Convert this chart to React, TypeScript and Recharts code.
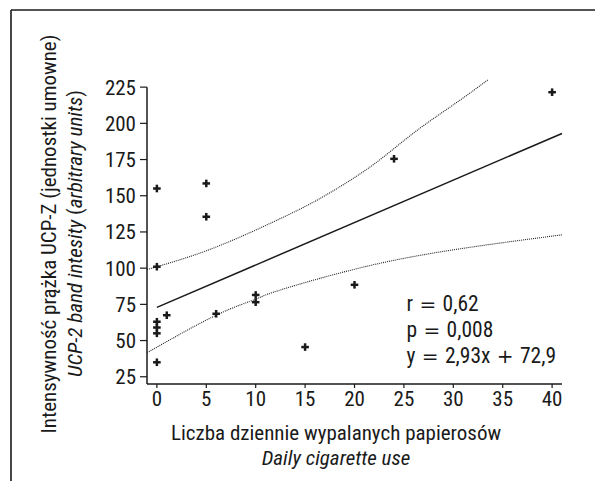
import React from "react";
import { ComposedChart, XAxis, YAxis, Line, Scatter, ReferenceLine } from "recharts";

// measured points (cigarettes/day vs UCP-2 band intensity)
const pointX = [0, 0, 0, 0, 0, 0, 1, 5, 5, 6, 10, 10, 15, 20, 24, 40];
const pointY = [155, 101, 63, 59, 55, 35, 67.5, 158.5, 135.5, 68.5, 81.5, 76.5, 45.5, 88.5, 175.5, 221.5];

// regression line y = 2,93x + 72,9
const fitX = [0, 41];
const fitY = [72.9, 193];

// confidence band
const upperX = [-1, 5, 11.3, 16.4, 21.5, 26.5, 31.6, 33.5];
const upperY = [99, 112, 130.4, 147.7, 169.5, 196, 220.5, 230];
const lowerX = [-1, 6, 10, 12.3, 21.5, 31.6, 41];
const lowerY = [41.5, 67.5, 78.5, 84.5, 101.7, 114.3, 123];

const xTicks = [0, 5, 10, 15, 20, 25, 30, 35, 40];
const yTicks = [25, 50, 75, 100, 125, 150, 175, 200, 225];

// stats box: text pieces, odd ones are operators
const stats = [
  ["r", " = ", "0,62"],
  ["p", " = ", "0,008"],
  ["y", " = ", "2,93x", " + ", "72,9"],
];

const FONT = "'Liberation Sans Narrow', 'Roboto Condensed', 'DejaVu Sans Condensed', 'Liberation Sans', sans-serif";
const MATH = "'DejaVu Sans', sans-serif";
const INK = "#1a1a1a";

const zip = (xs: number[], ys: number[]) => xs.map((x, i) => ({ x, y: ys[i] }));

const points = zip(pointX, pointY);
const fit = zip(fitX, fitY);
const upper = zip(upperX, upperY);
const lower = zip(lowerX, lowerY);

const Plus = (props: any) => {
  const { cx, cy } = props;
  return (
    <g stroke={INK} strokeWidth={2.5}>
      <line x1={cx - 3.8} y1={cy} x2={cx + 3.8} y2={cy} />
      <line x1={cx} y1={cy - 3.8} x2={cx} y2={cy + 3.8} />
    </g>
  );
};

const tickStyle = { fill: INK, fontSize: 21, fontFamily: FONT, fontStretch: "condensed" as const };

export default function App() {
  return (
    <div style={{ position: "absolute", left: 0, top: 0, width: 595, height: 481, background: "#fff" }}>
      <ComposedChart width={595} height={481} margin={{ top: 77, right: 33, bottom: 67, left: 0 }}>
        <XAxis
          type="number"
          dataKey="x"
          domain={[-1, 41]}
          ticks={xTicks}
          tickSize={4}
          tickMargin={3}
          tick={tickStyle}
          axisLine={{ stroke: INK, strokeWidth: 1.5 }}
          tickLine={{ stroke: INK, strokeWidth: 1.2 }}
          height={30}
        />
        <YAxis
          type="number"
          dataKey="y"
          domain={[20, 232]}
          ticks={yTicks}
          tickSize={7}
          tickMargin={4}
          tick={tickStyle}
          axisLine={false}
          tickLine={{ stroke: INK, strokeWidth: 1.2 }}
          width={147}
        />
        <ReferenceLine segment={[{ x: -1, y: 20 }, { x: -1, y: 225 }]} stroke={INK} strokeWidth={1.5} />
        <Line data={upper} dataKey="y" type="monotone" stroke="#222" strokeWidth={1.1} strokeDasharray="1 1" dot={false} isAnimationActive={false} />
        <Line data={lower} dataKey="y" type="natural" stroke="#222" strokeWidth={1.1} strokeDasharray="1 1" dot={false} isAnimationActive={false} />
        <Line data={fit} dataKey="y" type="linear" stroke={INK} strokeWidth={1.5} dot={false} isAnimationActive={false} />
        <Scatter data={points} dataKey="y" shape={<Plus />} isAnimationActive={false} />
      </ComposedChart>
      <svg width={595} height={481} style={{ position: "absolute", left: 0, top: 0, pointerEvents: "none" }}>
        {/* frame */}
        <line x1={11} y1={10} x2={595} y2={10} stroke={INK} strokeWidth={1.6} />
        <line x1={11} y1={10} x2={11} y2={481} stroke={INK} strokeWidth={1.6} />
        <g fontFamily={FONT} fontSize={21} fill={INK} style={{ fontStretch: "condensed" }}>
          <text x={56} y={234} textAnchor="middle" transform="rotate(-90 56 234)">
            Intensywność prążka UCP-Z (jednostki umowne)
          </text>
          <text x={81.5} y={233.5} textAnchor="middle" transform="rotate(-90 81.5 233.5)">
            <tspan fontStyle="italic">UCP-2 band intesity</tspan> (<tspan fontStyle="italic">arbitrary units</tspan>)
          </text>
          <text x={336} y={440} textAnchor="middle">Liczba dziennie wypalanych papierosów</text>
          <text x={336} y={465} textAnchor="middle" fontStyle="italic">Daily cigarette use</text>
          {stats.map((parts, i) => (
            <text key={i} x={406.5} y={310.5 + i * 26} fontSize={21.5} style={{ whiteSpace: "pre" }}>
              {parts.map((p, j) => (
                <tspan key={j} style={j % 2 === 1 ? { fontFamily: MATH, fontSize: 20, fontStretch: "normal" } : undefined}>
                  {p}
                </tspan>
              ))}
            </text>
          ))}
        </g>
      </svg>
    </div>
  );
}
